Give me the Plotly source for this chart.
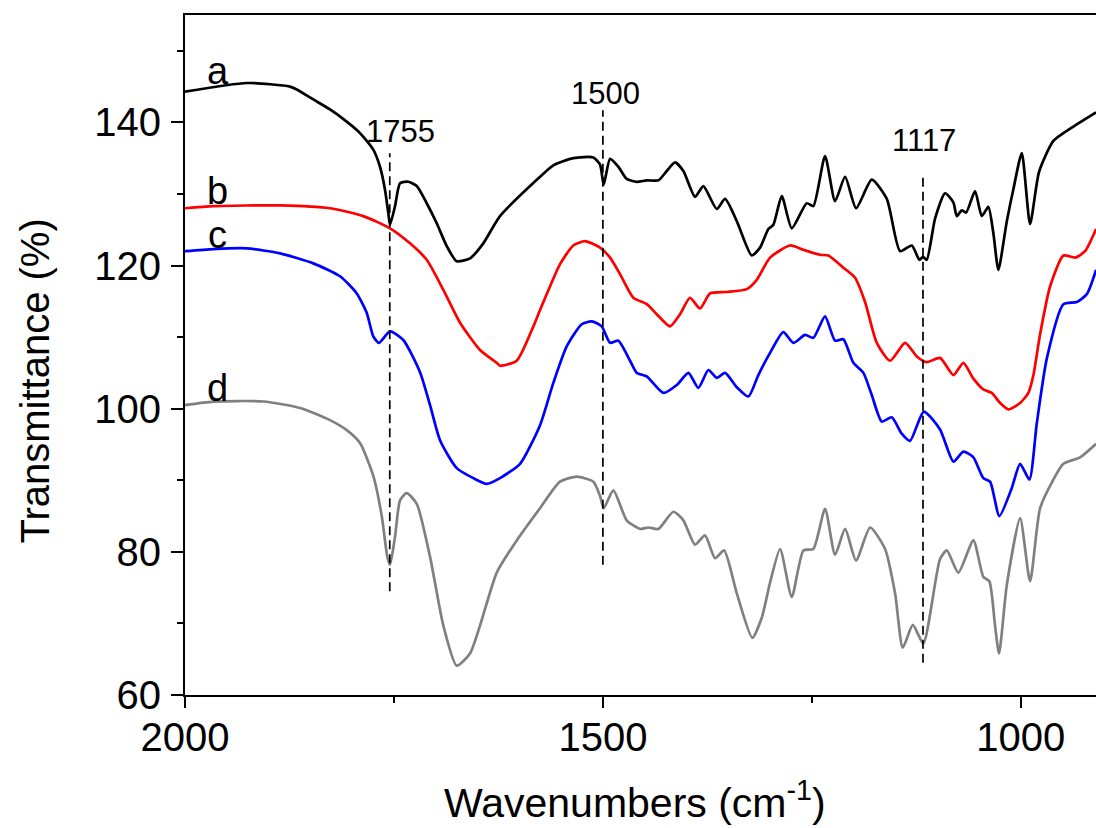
import plotly.graph_objects as go

# ---- data (wavenumber cm-1, transmittance %) ----
wn_a = [2000, 1925.8, 1874.4, 1866.3, 1846.5, 1826.5, 1806.5, 1790.6, 1774.7, 1766.7, 1760.7, 1756.7, 1754.7,
        1748.7, 1742.7, 1732.8, 1722.7, 1710.8, 1698.8, 1686.8, 1674.9, 1659, 1643.1, 1623.1, 1575.2, 1559.3,
        1535.4, 1511.4, 1503.4, 1499, 1491.4, 1481.5, 1471.5, 1459.5, 1447.5, 1433.6, 1423.6, 1413.7, 1403.7,
        1389.7, 1379.8, 1363.8, 1353.8, 1339.8, 1321.9, 1312, 1302, 1296, 1286, 1274, 1256.1, 1248.2, 1234.2,
        1222.2, 1210.2, 1197.1, 1178.3, 1160.3, 1144.4, 1130.4, 1121.3, 1117, 1112.5, 1102.5, 1090.6, 1080.6,
        1076.6, 1070.6, 1065.4, 1054.7, 1046.7, 1038.8, 1032.8, 1026.8, 1016.7, 1008.8, 998.8, 988.9, 978.1,
        961, 938.6, 909.9]
t_a = [144.3, 145.5, 145.0, 144.6, 143.2, 141.8, 140.1, 138.5, 136.2, 133.8, 130.6, 127.3, 125.7,
       128.3, 131.5, 131.7, 131.1, 128.7, 125.9, 122.7, 120.6, 121.0, 123.1, 126.9, 132.4, 134.0,
       135.0, 135.1, 134.1, 131.3, 134.9, 133.8, 132.1, 131.7, 131.9, 131.9, 133.2, 134.4, 133.2,
       129.6, 131.1, 127.9, 129.3, 126.2, 121.4, 122.5, 125.1, 125.7, 129.7, 125.2, 128.7, 128.3, 135.3,
       129.0, 132.4, 128.0, 132.0, 129.3, 122.0, 122.8, 120.8, 121.2, 120.8, 126.6, 130.1, 128.8,
       126.9, 127.7, 127.4, 130.4, 126.9, 128.2, 124.5, 119.4, 126.2, 130.7, 135.7, 125.8, 133.1,
       137.4, 139.3, 141.4]

wn_b = [2000, 1966.1, 1886.3, 1826.5, 1786.6, 1754.7, 1730.8, 1710.8, 1690.9, 1670.9, 1647, 1627, 1623.1,
        1603.1, 1583.2, 1575.2, 1563.2, 1551.3, 1535.4, 1521.4, 1503.4, 1491.4, 1479.5, 1463.6, 1447.5,
        1435.6, 1419.7, 1407.7, 1395.8, 1383.8, 1371.8, 1351.8, 1327.9, 1315.9, 1300, 1276.1, 1260.1,
        1240.2, 1230.2, 1212.3, 1198.3, 1186.3, 1172.3, 1156.4, 1138.4, 1124.4, 1112.5, 1096.6, 1080.6,
        1068.7, 1056.7, 1044.8, 1034.7, 1024.8, 1014.8, 1000.8, 990.9, 984.9, 976.9, 964.9, 949, 935,
        923.1, 909.9]
t_b = [128.0, 128.3, 128.4, 128.0, 126.9, 125.2, 123.1, 120.8, 116.6, 112.0, 108.2, 106.4, 106.0,
       106.7, 111.5, 113.8, 117.1, 120.2, 122.8, 123.4, 122.5, 121.1, 118.8, 115.5, 114.6,
       113.2, 111.5, 113.2, 115.5, 114.0, 116.1, 116.3, 116.7, 118.0, 121.1, 122.8, 122.2,
       121.5, 121.4, 119.7, 118.3, 114.9, 109.2, 106.7, 109.2, 107.3, 106.5, 107.1, 104.7,
       106.4, 104.2, 102.7, 102.2, 100.8, 99.9, 100.8, 102.2, 104.7, 110.4, 117.1, 121.4, 121.1,
       122.0, 125.1]

wn_c = [2000, 1966.1, 1926.2, 1886.3, 1846.5, 1814.5, 1794.5, 1782.6, 1774.7, 1767.9, 1754.7, 1738.8,
        1718.8, 1706.8, 1694.9, 1674.9, 1655, 1639, 1623.1, 1599.1, 1575.2, 1559.3, 1543.3, 1525.3,
        1513.3, 1501.4, 1491.4, 1481.5, 1467.5, 1459.5, 1447.5, 1427.7, 1411.6, 1397.7, 1385.8, 1373.8,
        1363.8, 1353.8, 1339.8, 1325.9, 1314, 1300, 1284.1, 1272.1, 1258.1, 1248.2, 1234.2, 1222.2,
        1212.3, 1200.3, 1188.3, 1178.3, 1166.3, 1154.4, 1142.4, 1132.5, 1116, 1096.6, 1080.6, 1068.7,
        1056.7, 1044.8, 1036.7, 1025.6, 1010.8, 1000.8, 989.7, 980.8, 968.9, 949, 933, 921, 909.9]
t_c = [122.0, 122.3, 122.4, 121.7, 120.3, 118.5, 116.1, 113.4, 110.1, 109.2, 110.8, 109.6,
       105.1, 100.5, 95.6, 91.7, 90.3, 89.5, 90.3, 92.3, 97.7, 103.6, 108.7, 111.8,
       112.2, 111.5, 109.2, 109.5, 106.7, 105.0, 104.5, 102.2, 103.3, 105.0, 102.9, 105.4,
       104.3, 105.0, 103.0, 101.7, 104.7, 107.8, 110.7, 109.2, 110.3, 109.9, 112.9, 109.5,
       109.7, 106.4, 105.0, 101.9, 98.2, 98.8, 96.5, 95.5, 99.6, 97.1, 92.6, 94.0,
       93.2, 90.3, 89.8, 85.0, 88.9, 92.3, 90.1, 98.0, 107.0, 114.6, 114.9, 116.0, 119.4]

wn_d = [2000, 1966.1, 1906.3, 1862.4, 1826.5, 1806.5, 1790.6, 1774.7, 1764.6, 1757.9, 1754.7, 1748.7,
        1742.7, 1734.7, 1722.7, 1706.8, 1690.9, 1674.9, 1659, 1647, 1627, 1603.1, 1575.2, 1551.3, 1531.3,
        1511.4, 1503.4, 1499, 1487.5, 1471.5, 1455.5, 1445.6, 1433.6, 1415.7, 1403.7, 1389.7, 1377.8,
        1365.8, 1355, 1339.8, 1321.2, 1309.9, 1300, 1288, 1274, 1260.1, 1248.2, 1234.2, 1222.2, 1210.2,
        1197.1, 1180.3, 1162.4, 1150.4, 1141.2, 1129.2, 1116.6, 1096.6, 1088.5, 1074.7, 1056.7, 1044.8,
        1037.6, 1030.8, 1026, 1016.7, 1000.8, 988.9, 976.9, 961, 949, 929.1, 909.9]
t_d = [100.5, 101.0, 101.0, 100.1, 98.4, 97.0, 95.2, 90.6, 85.0, 79.3, 78.2, 82.1,
       87.2, 88.2, 86.7, 79.3, 69.7, 64.1, 65.8, 69.7, 77.1, 81.6, 86.1, 89.8, 90.5,
       89.8, 87.8, 86.1, 88.6, 84.4, 83.2, 83.4, 83.2, 85.6, 84.4, 81.0, 82.3,
       79.1, 80.2, 74.2, 68.0, 70.8, 75.7, 80.4, 73.7, 80.2, 80.4, 86.0, 79.6, 83.2,
       78.8, 83.4, 80.4, 74.2, 66.6, 69.8, 67.2, 79.0, 80.2, 77.1, 81.6, 76.5,
       75.9, 69.7, 65.8, 75.4, 84.7, 75.9, 86.1, 90.1, 92.3, 93.2, 95.1]

series_names = ["a", "b", "c", "d"]
series_colors = ["#000000", "#ff0000", "#0000ff", "#808080"]
label_t = [147.2, 130.4, 124.3, 102.9]
label_wn = 1961

marker_wn = [1755, 1500, 1117]
marker_top = [135.7, 141.7, 132.8]
marker_bottom = [74.5, 78.2, 64.5]
marker_label_wn = [1742.7, 1496.5, 1115.7]
marker_label_t = [138.7, 144.0, 137.5]

x_ticks = [2000, 1500, 1000]
y_ticks = [60, 80, 100, 120, 140]

FONT = "Liberation Sans, Arial, sans-serif"

fig = go.Figure()
for wn, t, col, name in zip([wn_a, wn_b, wn_c, wn_d], [t_a, t_b, t_c, t_d], series_colors, series_names):
    fig.add_trace(go.Scatter(x=wn, y=t, mode="lines", name=name,
                             line=dict(color=col, width=2.7, shape="spline", smoothing=0.6),
                             showlegend=False, hoverinfo="skip"))

for w, top, bot in zip(marker_wn, marker_top, marker_bottom):
    fig.add_trace(go.Scatter(x=[w, w], y=[bot, top], mode="lines",
                             line=dict(color="#000000", width=1.7, dash="9px,5px"),
                             showlegend=False, hoverinfo="skip"))

for name, lt in zip(series_names, label_t):
    fig.add_annotation(x=label_wn, y=lt, text=name, showarrow=False,
                       xanchor="center", yanchor="middle",
                       font=dict(family=FONT, size=38, color="#000000"))

for w, lt, w0 in zip(marker_label_wn, marker_label_t, marker_wn):
    fig.add_annotation(x=w, y=lt, text=str(w0), showarrow=False,
                       xanchor="center", yanchor="middle",
                       font=dict(family=FONT, size=31, color="#000000"))

fig.add_annotation(xref="paper", yref="paper", x=-0.165, y=0.462, text="Transmittance (%)",
                   textangle=-90, showarrow=False, xanchor="center", yanchor="middle",
                   font=dict(family=FONT, size=40, color="#000000"))
fig.add_annotation(xref="paper", yref="paper", x=0.494, y=-0.154, text="Wavenumbers (cm<sup>-1</sup>)",
                   showarrow=False, xanchor="center", yanchor="middle",
                   font=dict(family=FONT, size=41, color="#000000"))

fig.update_layout(
    width=1096, height=828,
    margin=dict(l=185, r=0, t=15, b=133),
    paper_bgcolor="white", plot_bgcolor="white",
    font=dict(family=FONT, color="#000000"),
)
fig.update_xaxes(range=[2000, 910], tickvals=x_ticks, ticktext=[str(v) for v in x_ticks],
                 ticks="outside", ticklen=11, tickwidth=2, tickcolor="#000000",
                 ticklabelstandoff=-5,
                 showline=True, linewidth=2, linecolor="#000000", mirror=True,
                 showgrid=False, zeroline=False,
                 tickfont=dict(family=FONT, size=40, color="#000000"),
                 minor=dict(ticks="outside", ticklen=6, tickwidth=2, tickcolor="#000000",
                            dtick=250, tick0=2000, showgrid=False))
fig.update_yaxes(range=[60, 155], tickvals=y_ticks, ticktext=[str(v) for v in y_ticks],
                 ticks="outside", ticklen=12, tickwidth=2, tickcolor="#000000",
                 ticklabelstandoff=2,
                 showline=True, linewidth=2, linecolor="#000000", mirror=False,
                 showgrid=False, zeroline=False,
                 tickfont=dict(family=FONT, size=40, color="#000000"),
                 minor=dict(ticks="outside", ticklen=6, tickwidth=2, tickcolor="#000000",
                            dtick=10, tick0=60, showgrid=False))

fig.write_html("out.html")
